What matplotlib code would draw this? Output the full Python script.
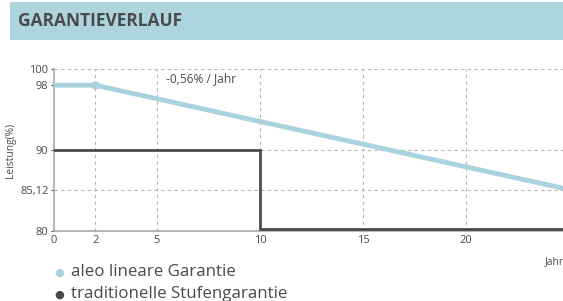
import matplotlib
matplotlib.use("Agg")
import matplotlib.pyplot as plt
from matplotlib.patches import Rectangle

plt.rcParams["font.family"] = ["Open Sans", "DejaVu Sans"]

# data
linear_years = [0, 2, 25]
linear_values = [98, 98, 85.12]
step_years = [0, 10, 10, 25]
step_values = [90, 90, 80.25, 80.25]
x_ticks = [0, 2, 5, 10, 15, 20]
y_ticks = [80, 85.12, 90, 98, 100]
y_labels = ["80", "85,12", "90", "98", "100"]
x_grid = [2, 5, 10, 15, 20]
y_grid = [85.12, 90, 100]

BLUE = "#aad3de"
DARK = "#4a4a4a"
GRID = "#b5b5b5"

fig = plt.figure(figsize=(5.63, 3.01), dpi=100)
fig.patch.set_facecolor("white")

# header band
fig.patches.append(Rectangle((10 / 563, 1 - 40 / 301), 1, 38 / 301,
                             transform=fig.transFigure, fc="#aed4de", ec="none"))
fig.text(18 / 563, 1 - 21 / 301, "GARANTIEVERLAUF", fontsize=12.5, fontweight="bold",
         color=DARK, va="center", ha="left")

ax = fig.add_axes([54 / 563, 1 - 231 / 301, 515 / 563, 162 / 301])
ax.set_xlim(0, 25)
ax.set_ylim(80, 100)

for x in x_grid:
    ax.axvline(x, color=GRID, lw=0.8, ls=(0, (3, 3)), zorder=1)
for y in y_grid:
    ax.axhline(y, color=GRID, lw=0.8, ls=(0, (3, 3)), zorder=1)

ax.plot(step_years, step_values, color=DARK, lw=2, zorder=3, solid_joinstyle="miter")
ax.plot(linear_years, linear_values, color=BLUE, lw=3.5, zorder=4, solid_capstyle="butt")
ax.plot([2], [98], "o", color=BLUE, ms=5, zorder=5)

ax.text(5.45, 98.8, "-0,56% / Jahr", fontsize=8.6, color=DARK, va="center", ha="left")

ax.set_xticks(x_ticks)
ax.set_xticklabels([str(t) for t in x_ticks])
ax.set_yticks(y_ticks)
ax.set_yticklabels(y_labels)
ax.tick_params(axis="both", labelsize=8, colors=DARK, length=2, width=0.8, pad=2)
ax.tick_params(axis="x", length=0, pad=3)
for s in ["top", "right"]:
    ax.spines[s].set_visible(False)
for s in ["left", "bottom"]:
    ax.spines[s].set_color("#a8a8a8")
    ax.spines[s].set_linewidth(1.2)
ax.set_ylabel("Leistung(%)", fontsize=7.4, color=DARK, labelpad=3)

fig.text(545 / 563, 1 - 262 / 301, "Jahr", fontsize=7.4, color=DARK, va="center", ha="left")

# legend
fig.text(59 / 563, 1 - 273 / 301, "●", fontsize=8, color=BLUE, va="center", ha="center",
         family="DejaVu Sans")
fig.text(71 / 563, 1 - 272 / 301, "aleo lineare Garantie", fontsize=12.2, color=DARK,
         va="center", ha="left")
fig.text(59 / 563, 1 - 295 / 301, "●", fontsize=8, color=DARK, va="center", ha="center",
         family="DejaVu Sans")
fig.text(71 / 563, 1 - 294 / 301, "traditionelle Stufengarantie", fontsize=12.2, color=DARK,
         va="center", ha="left")

fig.savefig("out.png", dpi=100)
